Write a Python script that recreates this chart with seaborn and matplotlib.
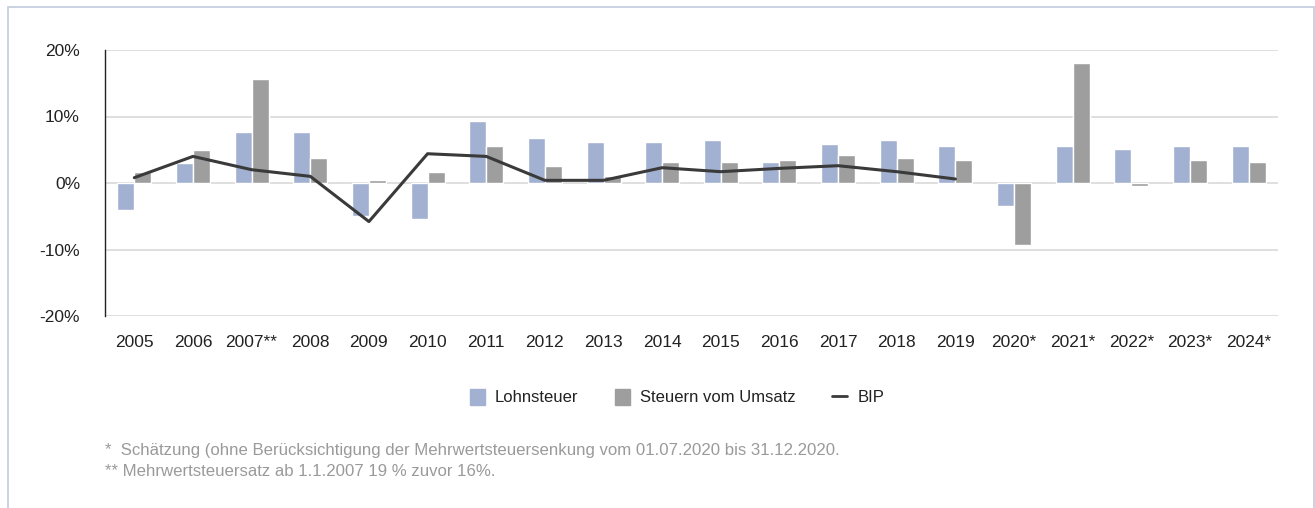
import matplotlib
matplotlib.use("Agg")
import matplotlib.pyplot as plt
import matplotlib.patches as mpatches
import matplotlib.lines as mlines
import numpy as np
import pandas as pd
import seaborn as sns

years = ["2005", "2006", "2007**", "2008", "2009", "2010", "2011", "2012", "2013", "2014",
         "2015", "2016", "2017", "2018", "2019", "2020*", "2021*", "2022*", "2023*", "2024*"]
lohnsteuer = [-4.1, 3.0, 7.6, 7.7, -4.9, -5.4, 9.3, 6.7, 6.1, 6.2,
              6.4, 3.2, 5.8, 6.4, 5.5, -3.4, 5.6, 5.1, 5.5, 5.6]
umsatz = [1.7, 5.0, 15.7, 3.8, 0.5, 1.7, 5.6, 2.5, 1.0, 3.1,
          3.2, 3.4, 4.2, 3.8, 3.5, -9.3, 18.1, -0.4, 3.4, 3.1]
bip = [0.8, 4.0, 2.0, 1.0, -5.8, 4.4, 4.0, 0.4, 0.4, 2.3,
       1.7, 2.2, 2.6, 1.7, 0.6, np.nan, np.nan, np.nan, np.nan, np.nan]
yticks = [-20, -10, 0, 10, 20]
series_names = ["Lohnsteuer", "Steuern vom Umsatz", "BIP"]
footnotes = ["*  Schätzung (ohne Berücksichtigung der Mehrwertsteuersenkung vom 01.07.2020 bis 31.12.2020.",
             "** Mehrwertsteuersatz ab 1.1.2007 19 % zuvor 16%."]

c_lohn = "#A2B1D1"
c_ums = "#9E9E9E"
c_bip = "#3A3A3A"

sns.set_theme(style="white")
plt.rcParams["font.family"] = ["Liberation Sans", "DejaVu Sans"]

df = pd.DataFrame({
    "Jahr": years * 2,
    "Wert": lohnsteuer + umsatz,
    "Serie": [series_names[0]] * len(years) + [series_names[1]] * len(years),
})

fig = plt.figure(figsize=(13.15, 5.08), dpi=100)
W, H = 1315, 508
ax = fig.add_axes([105 / W, 1 - 316 / H, (1278 - 105) / W, (316 - 50) / H])

sns.barplot(data=df, x="Jahr", y="Wert", hue="Serie", order=years,
            palette=[c_lohn, c_ums], width=0.58, gap=0, ax=ax,
            legend=False, errorbar=None, saturation=1)
sns.lineplot(x=np.arange(len(years)), y=bip, color=c_bip, linewidth=2.2, ax=ax)

ax.set_ylim(-20, 20)
ax.set_xlim(-0.5, len(years) - 0.5)
ax.set_yticks(yticks)
ax.set_yticklabels([f"{t}%" for t in yticks])
ax.set_xlabel("")
ax.set_ylabel("")
ax.yaxis.grid(True, color="#D9D9D9", linewidth=1.2)
ax.set_axisbelow(True)
for s in ["top", "right", "bottom"]:
    ax.spines[s].set_visible(False)
ax.spines["left"].set_color("#222222")
ax.spines["left"].set_linewidth(1.0)
ax.tick_params(axis="y", direction="out", length=6, width=1, color="#222222",
               labelsize=12.5, labelcolor="#222222", pad=12)
ax.tick_params(axis="x", length=0, labelsize=12.5, labelcolor="#222222", pad=14)

handles = [mpatches.Patch(color=c_lohn), mpatches.Patch(color=c_ums),
           mlines.Line2D([], [], color=c_bip, linewidth=2)]
fig.legend(handles, series_names, loc="center", bbox_to_anchor=(677 / W, 1 - 397 / H),
           ncol=3, frameon=False, fontsize=12, handlelength=0.9, handleheight=1.1,
           columnspacing=2.2, handletextpad=0.6, labelcolor="#222222")

fig.text(105 / W, 1 - 451 / H, footnotes[0], fontsize=12.1, color="#9A9A9A", va="center")
fig.text(105 / W, 1 - 472 / H, footnotes[1], fontsize=12.1, color="#9A9A9A", va="center")

border = mpatches.Rectangle((7.5 / W, -0.1), (1313.5 - 7.5) / W, 1 - 7.5 / H + 0.1,
                            transform=fig.transFigure, fill=False,
                            edgecolor="#C3CBDD", linewidth=1.2)
fig.patches.append(border)

fig.savefig("out.png", dpi=100, facecolor="white")
